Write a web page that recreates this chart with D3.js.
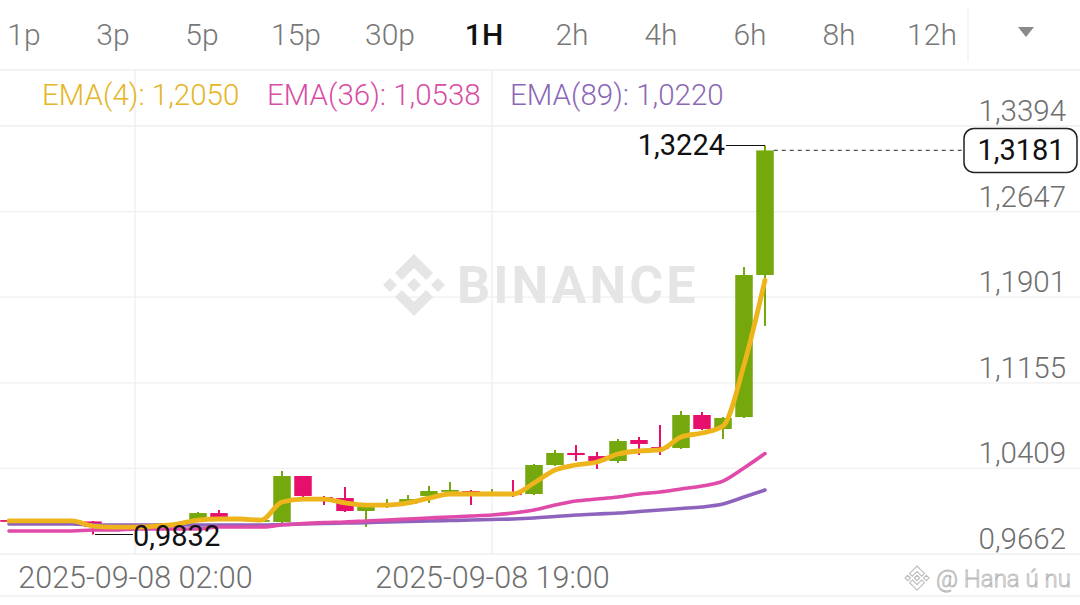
<!DOCTYPE html>
<html><head><meta charset="utf-8">
<script src="https://cdn.jsdelivr.net/npm/d3@7/dist/d3.min.js"></script>
<style>
html,body{margin:0;padding:0;background:#fff;}
svg{display:block;font-family:Roboto,"Noto Sans",sans-serif;}
</style></head>
<body>
<svg id="chart" width="1080" height="605"></svg>
<script>
// ---------- DATA ----------
const tabs = ["1p","3p","5p","15p","30p","1H","2h","4h","6h","8h","12h"];
const activeTab = "1H";
const times = [
 "2025-09-07 20:00","2025-09-07 21:00","2025-09-07 22:00","2025-09-07 23:00",
 "2025-09-08 00:00","2025-09-08 01:00","2025-09-08 02:00","2025-09-08 03:00","2025-09-08 04:00","2025-09-08 05:00",
 "2025-09-08 06:00","2025-09-08 07:00","2025-09-08 08:00","2025-09-08 09:00","2025-09-08 10:00","2025-09-08 11:00",
 "2025-09-08 12:00","2025-09-08 13:00","2025-09-08 14:00","2025-09-08 15:00","2025-09-08 16:00","2025-09-08 17:00",
 "2025-09-08 18:00","2025-09-08 19:00","2025-09-08 20:00","2025-09-08 21:00","2025-09-08 22:00","2025-09-08 23:00",
 "2025-09-09 00:00","2025-09-09 01:00","2025-09-09 02:00","2025-09-09 03:00","2025-09-09 04:00","2025-09-09 05:00",
 "2025-09-09 06:00","2025-09-09 07:00","2025-09-09 08:00"];
const opens  = [0.9958,0.9950,0.9958,0.9952,0.9946,0.9897,0.9889,0.9897,0.9915,0.9950,1.0019,0.9967,0.9950,0.9941,1.0342,1.0159,1.0150,1.0037,1.0089,1.0098,1.0168,1.0211,1.0211,1.0194,1.0194,1.0185,1.0438,1.0543,1.0516,1.0473,1.0656,1.0595,1.0586,1.0874,1.0752,1.0856,1.2095];
const closes = [0.9950,0.9952,0.9952,0.9946,0.9897,0.9889,0.9897,0.9915,0.9932,1.0019,0.9967,0.9958,0.9958,1.0342,1.0168,1.0133,1.0037,1.0072,1.0107,1.0141,1.0211,1.0220,1.0194,1.0203,1.0176,1.0438,1.0543,1.0525,1.0473,1.0647,1.0621,1.0577,1.0874,1.0752,1.0848,1.2095,1.3181];
const highs  = [0.9967,0.9958,0.9967,0.9963,0.9950,0.9906,0.9906,0.9923,0.9941,1.0028,1.0046,0.9985,0.9963,1.0386,1.0342,1.0168,1.0246,1.0080,1.0141,1.0176,1.0255,1.0290,1.0220,1.0229,1.0307,1.0447,1.0569,1.0612,1.0551,1.0665,1.0682,1.0787,1.0909,1.0900,1.0856,1.2164,1.3224];
const lows   = [0.9946,0.9941,0.9946,0.9941,0.9832,0.9871,0.9880,0.9889,0.9906,0.9946,0.9958,0.9950,0.9941,0.9932,1.0150,1.0089,1.0028,0.9897,1.0063,1.0089,1.0107,1.0203,1.0089,1.0185,1.0159,1.0176,1.0430,1.0473,1.0403,1.0455,1.0525,1.0525,1.0577,1.0743,1.0665,1.0848,1.1650];
const ema4   = [0.9950,0.9950,0.9950,0.9950,0.9906,0.9897,0.9897,0.9906,0.9923,0.9958,0.9967,0.9967,0.9958,1.0115,1.0141,1.0141,1.0107,1.0089,1.0089,1.0107,1.0150,1.0185,1.0185,1.0185,1.0185,1.0281,1.0394,1.0438,1.0464,1.0534,1.0560,1.0569,1.0682,1.0717,1.0778,1.1310,1.2050];
const ema36  = [0.9863,0.9863,0.9863,0.9863,0.9871,0.9871,0.9880,0.9880,0.9880,0.9880,0.9897,0.9897,0.9897,0.9915,0.9928,0.9936,0.9941,0.9950,0.9958,0.9967,0.9976,0.9985,0.9993,1.0002,1.0019,1.0046,1.0089,1.0124,1.0141,1.0159,1.0185,1.0203,1.0229,1.0255,1.0298,1.0412,1.0538];
const ema89  = [0.9923,0.9923,0.9923,0.9923,0.9915,0.9915,0.9915,0.9915,0.9915,0.9915,0.9915,0.9915,0.9915,0.9919,0.9923,0.9928,0.9932,0.9936,0.9941,0.9945,0.9950,0.9954,0.9958,0.9963,0.9967,0.9976,0.9989,1.0002,1.0011,1.0019,1.0032,1.0046,1.0059,1.0072,1.0098,1.0159,1.0220];
const priceTicks = [1.3394,1.2647,1.1901,1.1155,1.0409,0.9662];
const dateTicks = ["2025-09-08 02:00","2025-09-08 19:00"];
const emaLegend = [
  {name:"EMA(4)", value:1.2050, key:"ema4"},
  {name:"EMA(36)", value:1.0538, key:"ema36"},
  {name:"EMA(89)", value:1.0220, key:"ema89"}];
const lastPrice = 1.3181;
const watermarkText = "BINANCE";
const userMark = "@ Hana ú nu";

// ---------- STYLE ----------
const W = 1080, H = 605;
const col = {up:"#74A80C", down:"#E6106C", ema4:"#EDB51B", ema36:"#E04AA9", ema89:"#8E63BD",
             ema4t:"#E5B526", ema36t:"#D84DA5", ema89t:"#8B68B6", grid:"#EFEFEF", axis:"#6E6E6E"};
const fmt = v => d3.format(".4f")(v).replace(".", ",");
const parse = d3.utcParse("%Y-%m-%d %H:%M");

const svg = d3.select("#chart");
svg.append("rect").attr("width",W).attr("height",H).attr("fill","#fff");

// scales
const x = d3.scaleUtc().domain([parse(dateTicks[0]), parse(dateTicks[1])]).range([135, 492]);
const y = d3.scaleLinear().domain([priceTicks[priceTicks.length-1], priceTicks[0]]).range([554, 126]);
const bodyW = 17.5;

const data = times.map((t,i)=>({t:parse(t), o:opens[i], c:closes[i], h:highs[i], l:lows[i],
  e4:ema4[i], e36:ema36[i], e89:ema89[i]}));

// ---------- TAB BAR ----------
const tabX = [24,113,202,296,390,484,572,661,750,839,932];
svg.append("g").selectAll("text").data(tabs).join("text")
  .attr("x",(d,i)=>tabX[i]).attr("y",45).attr("text-anchor","middle")
  .attr("font-size",30).attr("font-weight",d=>d===activeTab?500:300)
  .attr("fill",d=>d===activeTab?"#111":"#777").text(d=>d);
svg.append("path").attr("d","M1018,27 L1034,27 L1026,37 Z").attr("fill","#8a8a8a");
svg.append("line").attr("x1",968).attr("x2",968).attr("y1",8).attr("y2",62).attr("stroke","#eee").attr("stroke-width",1.2);
svg.append("line").attr("x1",0).attr("x2",W).attr("y1",70).attr("y2",70).attr("stroke","#eee").attr("stroke-width",1.5);
svg.append("line").attr("x1",0).attr("x2",W).attr("y1",596).attr("y2",596).attr("stroke","#eee").attr("stroke-width",1.5);

// ---------- GRID ----------
const gridG = svg.append("g");
gridG.selectAll("line.h").data(priceTicks).join("line").attr("class","h")
  .attr("x1",0).attr("x2",W).attr("y1",d=>y(d)).attr("y2",d=>y(d))
  .attr("stroke",col.grid).attr("stroke-width",1.3);
gridG.selectAll("line.v").data(dateTicks).join("line").attr("class","v")
  .attr("x1",d=>x(parse(d))).attr("x2",d=>x(parse(d))).attr("y1",70).attr("y2",554)
  .attr("stroke",col.grid).attr("stroke-width",1.3);

// ---------- WATERMARK ----------
const logoPaths = [
  "M38.73,53.2L63.3,28.63L87.89,53.22L102.19,38.92L63.3,0L24.42,38.9Z",
  "M0,63.31L14.3,49.01L28.6,63.31L14.3,77.61Z",
  "M49,63.3L63.3,49L77.6,63.3L63.3,77.6Z",
  "M97.99,63.31L112.29,49.01L126.59,63.31L112.29,77.61Z",
  "M38.73,73.41L63.3,97.98L87.89,73.39L102.19,87.69L63.3,126.59L24.42,87.7Z"];
const wm = svg.append("g").attr("transform","translate(383,254) scale(0.49)");
wm.selectAll("path").data(logoPaths).join("path").attr("d",d=>d).attr("fill","#E5E5E5");
svg.append("text").attr("x",457).attr("y",303).attr("font-size",52).attr("font-weight",700)
  .attr("letter-spacing",3).attr("fill","#E5E5E5").text(watermarkText);

// ---------- CANDLES ----------
const cg = svg.append("g");
const cand = cg.selectAll("g").data(data).join("g");
cand.append("line").attr("x1",d=>x(d.t)).attr("x2",d=>x(d.t))
  .attr("y1",d=>y(d.h)).attr("y2",d=>y(d.l))
  .attr("stroke",d=>d.c>=d.o?col.up:col.down).attr("stroke-width",2);
cand.append("rect").attr("x",d=>x(d.t)-bodyW/2).attr("width",bodyW)
  .attr("y",d=>Math.min(y(d.o),y(d.c)))
  .attr("height",d=>Math.max(1.8,Math.abs(y(d.o)-y(d.c))))
  .attr("fill",d=>d.c>=d.o?col.up:col.down);

// ---------- EMA LINES ----------
const lineFor = key => d3.line().x(d=>x(d.t)).y(d=>y(d[key])).curve(d3.curveMonotoneX);
svg.append("path").datum(data).attr("d",lineFor("e89")).attr("fill","none").attr("stroke",col.ema89).attr("stroke-width",3.6).attr("stroke-linecap","round");
svg.append("path").datum(data).attr("d",lineFor("e36")).attr("fill","none").attr("stroke",col.ema36).attr("stroke-width",3.6).attr("stroke-linecap","round");
svg.append("path").datum(data).attr("d",lineFor("e4")).attr("fill","none").attr("stroke",col.ema4).attr("stroke-width",4.8).attr("stroke-linecap","round");

// ---------- LEGEND ----------
const legX = [42,267,510];
const legCol = [col.ema4t,col.ema36t,col.ema89t];
svg.append("g").selectAll("text").data(emaLegend).join("text")
  .attr("x",(d,i)=>legX[i]).attr("y",105).attr("font-size",29.5).attr("font-weight",300)
  .attr("fill",(d,i)=>legCol[i]).text(d=>d.name+": "+fmt(d.value));

// ---------- PRICE AXIS ----------
svg.append("g").selectAll("text").data(priceTicks).join("text")
  .attr("x",1066).attr("y",d=>y(d)-5).attr("text-anchor","end")
  .attr("font-size",29.5).attr("font-weight",300).attr("fill",col.axis).text(d=>fmt(d));

// ---------- DATE AXIS ----------
const xAxis = d3.axisBottom(x).tickValues(dateTicks.map(parse))
  .tickFormat(d3.utcFormat("%Y-%m-%d %H:%M")).tickSize(0).tickPadding(0);
const xg = svg.append("g").attr("transform","translate(0,560)").call(xAxis);
xg.select(".domain").remove();
xg.selectAll("text").attr("font-size",30.5).attr("font-weight",300).attr("fill",col.axis)
  .attr("font-family","Roboto,sans-serif").attr("dy","0").attr("y",28);

// ---------- HIGH / LOW MARKERS ----------
const hiI = d3.maxIndex(data,d=>d.h), loI = d3.minIndex(data,d=>d.l);
const hi = data[hiI], lo = data[loI];
svg.append("line").attr("x1",x(hi.t)).attr("x2",x(hi.t)-39).attr("y1",y(hi.h)).attr("y2",y(hi.h)).attr("stroke","#111").attr("stroke-width",1.2);
svg.append("text").attr("x",x(hi.t)-40).attr("y",y(hi.h)+10).attr("text-anchor","end")
  .attr("font-size",29).attr("font-weight",400).attr("fill","#111").text(fmt(hi.h));
svg.append("line").attr("x1",x(lo.t)+2).attr("x2",x(lo.t)+40).attr("y1",y(lo.l)).attr("y2",y(lo.l)).attr("stroke","#111").attr("stroke-width",1.2);
svg.append("text").attr("x",x(lo.t)+40).attr("y",y(lo.l)+11).attr("text-anchor","start")
  .attr("font-size",29).attr("font-weight",400).attr("fill","#111").text(fmt(lo.l));

// ---------- LAST PRICE ----------
const last = data[data.length-1];
svg.append("line").attr("x1",x(last.t)+bodyW/2).attr("x2",963).attr("y1",y(lastPrice)).attr("y2",y(lastPrice))
  .attr("stroke","#555").attr("stroke-width",1.3).attr("stroke-dasharray","4,4");
svg.append("rect").attr("x",964).attr("y",y(lastPrice)-22).attr("width",113).attr("height",44).attr("rx",10)
  .attr("fill","#fff").attr("stroke","#222").attr("stroke-width",1.5);
svg.append("text").attr("x",1021).attr("y",y(lastPrice)+10).attr("text-anchor","middle")
  .attr("font-size",29).attr("font-weight",400).attr("fill","#111").text(fmt(lastPrice));

// ---------- USER MARK ----------
const um = svg.append("g").attr("transform","translate(905,566) scale(0.19)");
um.selectAll("path").data(logoPaths).join("path").attr("d",d=>d).attr("fill","#fff").attr("stroke","#bbb").attr("stroke-width",6);
svg.append("text").attr("x",936).attr("y",587).attr("font-size",24).attr("font-weight",300)
  .attr("fill","#fff").attr("stroke","#b5b5b5").attr("stroke-width",0.8).text(userMark);
</script>
</body></html>
